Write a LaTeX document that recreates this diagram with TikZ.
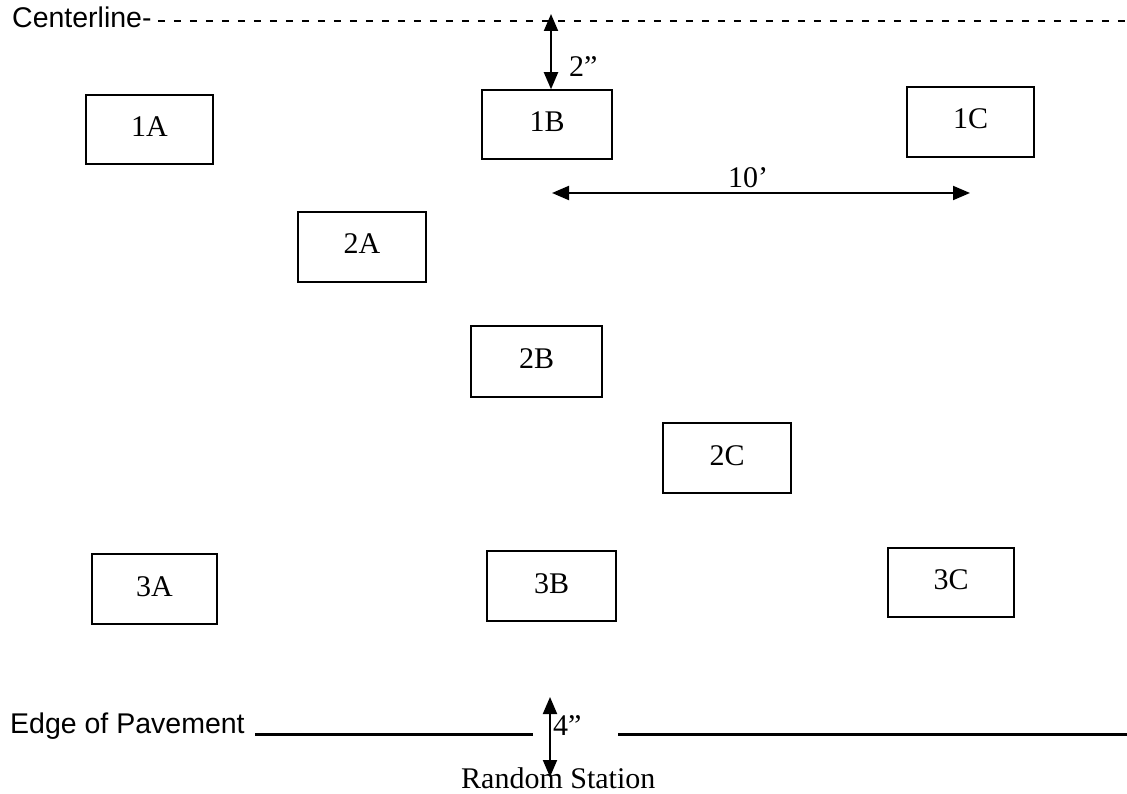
\documentclass[tikz,border=0pt]{standalone}
\usepackage{fontspec}
\setmainfont{Liberation Serif}
\setsansfont{Liberation Sans}
\usetikzlibrary{arrows.meta}
\begin{document}
\begin{tikzpicture}[x=1pt,y=-1pt,
  box/.style={draw, line width=1.5pt, rectangle, inner sep=0pt,
    font=\fontsize{30}{30}\selectfont, text height=20pt, text depth=6pt},
  sanslbl/.style={font=\sffamily\fontsize{28.5}{28.5}\selectfont, inner sep=0pt},
  seriflbl/.style={font=\fontsize{30}{30}\selectfont, inner sep=0pt},
  dim/.style={line width=2pt,
    {Triangle[length=17pt,width=14pt]}-{Triangle[length=17pt,width=14pt]}},
  road/.style={line width=3pt},
  centre/.style={line width=2pt, dash pattern=on 7pt off 9pt}]
\useasboundingbox (0,0) rectangle (1127,794);

% centerline
\node[sanslbl, anchor=base west] (CL) at (12,28) {Centerline-};
\coordinate (CLend) at (1127,21);
\draw[centre] ([xshift=6pt]CL.east |- CLend) -- (CLend);

% boxes
\node[box, minimum width=127pt, minimum height=69pt] (A1) at (149.5,129.5) {1A};
\node[box, minimum width=130pt, minimum height=69pt] (B1) at (547,124.5) {1B};
\node[box, minimum width=127pt, minimum height=70pt] (C1) at (970.5,122) {1C};
\node[box, minimum width=128pt, minimum height=70pt] (A2) at (362,247) {2A};
\node[box, minimum width=131pt, minimum height=71pt] (B2) at (536.5,361.5) {2B};
\node[box, minimum width=128pt, minimum height=70pt] (C2) at (727,458) {2C};
\node[box, minimum width=125pt, minimum height=70pt] (A3) at (154.5,589) {3A};
\node[box, minimum width=129pt, minimum height=70pt] (B3) at (551.5,586) {3B};
\node[box, minimum width=126pt, minimum height=69pt] (C3) at (951,582.5) {3C};

% 2" dimension
\coordinate (T2) at (551,14);
\draw[dim] (T2) -- (T2 |- B1.north);
\node[seriflbl, anchor=base west] (L2) at (569,77) {2”};

% 10' dimension
\coordinate (H1) at (552,193);
\coordinate (H2) at (970,193);
\draw[dim] (H1) -- (H2);
\node[seriflbl, anchor=base] (L10) at (748,188) {10’};

% edge of pavement
\node[sanslbl, anchor=base west] (EP) at (10,733) {Edge of Pavement};
\coordinate (E1) at (255,734);
\coordinate (E2) at (533,734);
\coordinate (E3) at (618,734);
\coordinate (E4) at (1127,734);
\draw[road] (E1) -- (E2);
\draw[road] (E3) -- (E4);

% 4" dimension
\coordinate (V1) at (550,697);
\coordinate (V2) at (550,777);
\draw[dim] (V1) -- (V2);
\node[seriflbl, anchor=base west] (L4) at (553,735) {4”};
\node[seriflbl, anchor=base west] (RS) at (461,788) {Random Station};
\end{tikzpicture}
\end{document}
